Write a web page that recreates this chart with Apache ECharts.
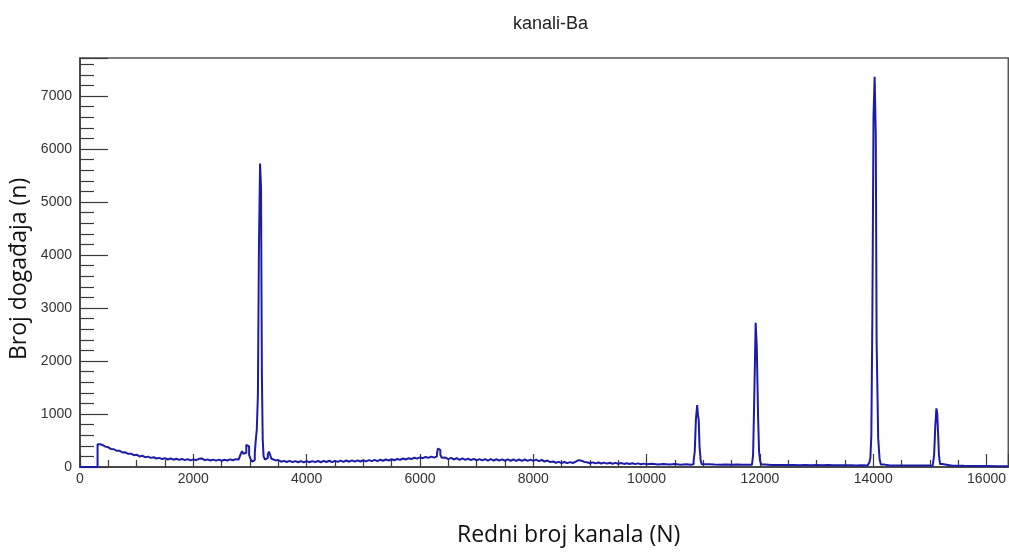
<!DOCTYPE html>
<html>
<head>
<meta charset="utf-8">
<script src="https://cdn.jsdelivr.net/npm/echarts@6/dist/echarts.min.js"></script>
<style>html,body{margin:0;padding:0;background:#fff;}#c{width:1009px;height:552px;}</style>
</head>
<body>
<div id="c"></div>
<script>
const titleText = 'kanali-Ba';
const xName = 'Redni broj kanala (N)';
const yName = 'Broj događaja (n)';
const xTicks = [0, 2000, 4000, 6000, 8000, 10000, 12000, 14000, 16000];
const yTicks = [0, 1000, 2000, 3000, 4000, 5000, 6000, 7000];

const channels = [
  0, 310,
  350, 400, 450, 500, 550, 600, 650, 700, 750, 800,
  850, 900, 950, 1000, 1050, 1100, 1150, 1200, 1250, 1300,
  1350, 1400, 1450, 1500, 1550, 1600, 1650, 1700, 1750, 1800,
  1850, 1900, 1950, 2000, 2050, 2100, 2150, 2200, 2250, 2300,
  2350, 2400, 2450, 2500, 2550, 2600, 2650, 2700, 2750, 2800,
  2830, 2860, 2885, 2910, 2935, 2960, 2985, 3010, 3040, 3065,
  3085, 3100, 3120, 3140, 3158, 3178, 3195, 3210, 3225, 3240,
  3265, 3290, 3315, 3335, 3355, 3375, 3400, 3450, 3500, 3550,
  3600, 3650, 3700, 3750, 3800, 3850, 3900, 3950, 4000, 4050,
  4100, 4150, 4200, 4250, 4300, 4350, 4400, 4450, 4500, 4550,
  4600, 4650, 4700, 4750, 4800, 4850, 4900, 4950, 5000, 5050,
  5100, 5150, 5200, 5250, 5300, 5350, 5400, 5450, 5500, 5550,
  5600, 5650, 5700, 5750, 5800, 5850, 5900, 5950, 6000, 6050,
  6100, 6150, 6200, 6250, 6280, 6300, 6320, 6340, 6360, 6385,
  6420, 6450, 6500, 6550, 6600, 6650, 6700, 6750, 6800, 6850,
  6900, 6950, 7000, 7050, 7100, 7150, 7200, 7250, 7300, 7350,
  7400, 7450, 7500, 7550, 7600, 7650, 7700, 7750, 7800, 7850,
  7900, 7950, 8000, 8050, 8100, 8150, 8200, 8250, 8300, 8350,
  8400, 8450, 8500, 8550, 8600, 8650, 8700, 8750, 8800, 8850,
  8900, 8950, 9000, 9050, 9100, 9150, 9200, 9250, 9300, 9350,
  9400, 9450, 9500, 9550, 9600, 9650, 9700, 9750, 9800, 9850,
  9900, 9950, 10000, 10100, 10200, 10300, 10400, 10500, 10600, 10700,
  10780, 10830, 10850, 10870, 10893, 10905, 10920, 10935, 10955, 10975,
  11100, 11200, 11300, 11400, 11500, 11600, 11700, 11800, 11860, 11880,
  11895, 11925, 11945, 11968, 11985, 12002, 12025, 12100, 12200, 12300,
  12400, 12500, 12600, 12700, 12800, 12900, 13000, 13100, 13200, 13300,
  13400, 13500, 13600, 13700, 13800, 13900, 13930, 13950, 13967, 13985,
  14005, 14025, 14045, 14060, 14088, 14112, 14135, 14200, 14300, 14400,
  14500, 14600, 14700, 14800, 14900, 15000, 15050, 15075, 15095, 15115,
  15130, 15145, 15160, 15180, 15220, 15400, 15600, 15800, 16000, 16200,
  16384
];

const counts = [
  0, 430,
  415, 385, 372, 338, 335, 305, 305, 275, 278, 248,
  252, 222, 232, 200, 212, 186, 196, 172, 184, 160,
  172, 150, 166, 142, 160, 138, 156, 134, 152, 130,
  148, 126, 144, 128, 155, 162, 128, 144, 122, 140,
  120, 140, 118, 138, 122, 144, 128, 148, 140, 165,
  230, 300, 250, 270, 420, 390, 230, 150, 100, 130,
  260, 480, 700, 1360, 4130, 5730, 5290, 1740, 520, 200,
  140, 170, 240, 290, 230, 160, 125, 130, 100, 115,
  95, 115, 92, 112, 90, 112, 88, 110, 90, 112,
  92, 114, 90, 116, 94, 118, 92, 116, 96, 120,
  98, 122, 100, 124, 102, 126, 104, 128, 106, 130,
  110, 134, 112, 138, 118, 142, 122, 146, 128, 152,
  134, 160, 142, 166, 150, 174, 158, 182, 166, 190,
  172, 196, 176, 198, 200, 260, 350, 320, 230, 175,
  178, 150, 172, 142, 166, 136, 162, 134, 158, 128,
  154, 126, 150, 124, 150, 122, 148, 120, 146, 120,
  144, 118, 144, 118, 142, 116, 142, 116, 142, 116,
  140, 114, 138, 112, 132, 104, 122, 92, 104, 80,
  96, 74, 94, 72, 92, 76, 100, 130, 120, 95,
  90, 70, 88, 68, 84, 66, 82, 64, 80, 62,
  78, 60, 76, 58, 72, 56, 70, 54, 68, 52,
  64, 50, 60, 48, 58, 46, 56, 44, 54, 44,
  52, 120, 290, 890, 1170, 1000, 890, 380, 120, 50,
  46, 44, 46, 42, 45, 41, 44, 42, 65, 230,
  1010, 2723, 2270, 950, 300, 120, 48, 40, 38, 40,
  36, 39, 35, 38, 34, 37, 33, 36, 32, 35,
  31, 34, 30, 33, 30, 40, 80, 170, 600, 2840,
  6610, 7365, 6265, 2364, 540, 150, 45, 30, 28, 30,
  27, 29, 26, 28, 26, 30, 60, 226, 760, 1107,
  1013, 636, 226, 55, 25, 22, 20, 18, 16, 14,
  14
];

const seriesData = channels.map((c, i) => [c, counts[i]]);

const chart = echarts.init(document.getElementById('c'), null, {renderer: 'canvas'});
const axisColor = '#3a3a3a';
chart.setOption({
  animation: false,
  backgroundColor: '#ffffff',
  title: {
    text: titleText,
    left: 508, top: 10,
    textStyle: {fontFamily: 'Liberation Sans', fontSize: 18, fontWeight: 'normal', color: '#222'}
  },
  grid: {
    left: 80, right: -1, top: 58, bottom: 85,
    show: true, borderColor: '#555', borderWidth: 1.5, containLabel: false
  },
  xAxis: {
    type: 'value', min: 0, max: 16384, interval: 2000,
    axisLine: {show: true, lineStyle: {color: axisColor, width: 1.5}},
    axisTick: {show: true, inside: true, length: 13, lineStyle: {color: axisColor, width: 1.2}},
    minorTick: {show: true, splitNumber: 4, length: 7, lineStyle: {color: axisColor, width: 1.2}},
    splitLine: {show: false},
    axisLabel: {
      show: true, margin: 5, showMaxLabel: false, color: '#333',
      fontFamily: 'Liberation Sans', fontSize: 14,
      formatter: v => (xTicks.indexOf(v) >= 0 ? String(v) : '')
    }
  },
  yAxis: {
    type: 'value', min: 0, max: 7720, interval: 1000,
    axisLine: {show: true, lineStyle: {color: axisColor, width: 1.5}},
    axisTick: {show: true, inside: true, length: 28, lineStyle: {color: axisColor, width: 1.2}},
    minorTick: {show: true, splitNumber: 5, length: 14, lineStyle: {color: axisColor, width: 1.2}},
    splitLine: {show: false},
    axisLabel: {
      show: true, margin: 8, showMaxLabel: false, color: '#333',
      fontFamily: 'Liberation Sans', fontSize: 14,
      formatter: v => (yTicks.indexOf(v) >= 0 ? String(v) : '')
    }
  },
  graphic: [
    {type: 'text', left: 457, top: 524,
      style: {text: xName, font: '23px "Open Sans"', fill: '#111'}},
    {type: 'text', x: 8, y: 360, rotation: Math.PI / 2,
      style: {text: yName, font: '23px "Open Sans"', fill: '#111'}}
  ],
  series: [{
    type: 'line',
    step: 'end',
    data: seriesData,
    showSymbol: false,
    symbol: 'none',
    clip: true,
    lineStyle: {color: '#1c1ca6', width: 2},
    emphasis: {disabled: true}
  }]
});
</script>
</body>
</html>
